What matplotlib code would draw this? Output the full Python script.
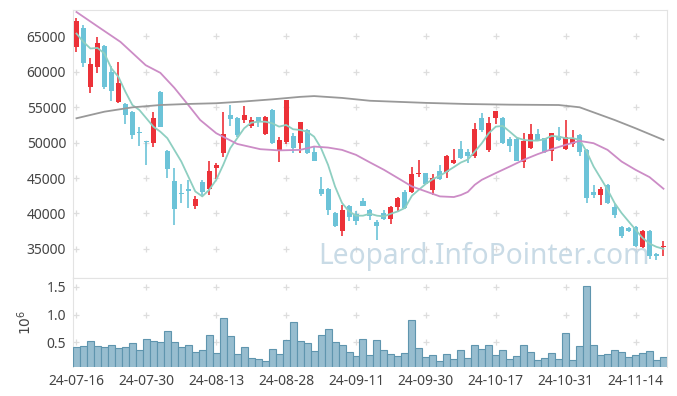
import matplotlib.pyplot as plt
import numpy as np

# daily candles, 24-07-16 .. 24-11-20 (trading days only)
opens = [63500, 66220, 57870, 60600, 63590, 59940, 55760, 55400, 54310, 51500,
         50170, 49910, 57170, 48830, 44610, 42950, 43420, 41000, 44430, 43450,
         46480, 48590, 53890, 53470, 53190, 52390, 53570, 51260, 54600, 48870,
         50140, 50940, 49910, 51780, 48690, 43490, 43490, 40070, 37490, 41100,
         39970, 41800, 40540, 38810, 40070, 39230, 40860, 43070, 42970, 45500,
         45700, 43250, 46020, 45920, 47190, 49110, 48730, 48130, 53430, 48970,
         53510, 53430, 50480, 50520, 47330, 49300, 51220, 50620, 48870, 50940,
         49070, 49770, 51080, 48970, 42970, 42650, 44050, 40860, 38130, 37960,
         38100, 35290, 37580, 34350, 35240]
highs = [67630, 66550, 61870, 64900, 63740, 60780, 61300, 55540, 54460, 52160,
         50280, 54360, 57270, 48970, 46400, 44150, 44660, 42410, 44750, 47430,
         47100, 54360, 55300, 53570, 55160, 53650, 53650, 53750, 54690, 50840,
         56050, 51400, 52950, 51880, 49350, 45080, 43590, 40160, 41240, 41240,
         40300, 42180, 40630, 39130, 40440, 41000, 42320, 43350, 46540, 47570,
         45780, 45560, 46820, 48270, 49070, 50280, 49070, 52730, 54220, 53570,
         54500, 53570, 50840, 50620, 51400, 52630, 51880, 50700, 51400, 52250,
         53190, 51780, 51220, 49070, 44050, 43670, 44150, 41340, 38230, 38130,
         38290, 37720, 37720, 34440, 36080]
lows = [62790, 60680, 56940, 59840, 57590, 55900, 55620, 52590, 50480, 49580,
        46820, 49440, 52160, 44990, 38430, 41480, 40770, 40630, 42410, 42600,
        44890, 48030, 52390, 50840, 52810, 52020, 52160, 51080, 49820, 47240,
        49770, 48510, 48590, 48410, 47380, 42500, 39830, 38100, 36780, 38890,
        38430, 41000, 39060, 36320, 39030, 38530, 40160, 40630, 42880, 45130,
        44090, 42550, 44750, 44990, 47000, 47750, 47190, 47890, 51540, 48650,
        52590, 49820, 48650, 47380, 46400, 49070, 50240, 48590, 47470, 50280,
        48970, 49350, 48130, 41480, 42180, 41240, 41380, 39370, 36490, 37400,
        35290, 35150, 33600, 33410, 33970]
closes = [67110, 61250, 61060, 64060, 57830, 57310, 58390, 53940, 51120, 51360,
          50030, 53430, 52250, 46340, 40680, 42740, 43240, 42080, 42970, 46020,
          46860, 51260, 53370, 51080, 53890, 53190, 52870, 53570, 49910, 50380,
          56000, 49210, 52870, 48510, 47470, 42790, 40440, 38190, 40540, 39450,
          38890, 41100, 39590, 38290, 39230, 40910, 42220, 40720, 45600, 45780,
          44190, 44990, 44890, 48130, 47570, 47890, 48130, 51880, 51780, 52810,
          54460, 50000, 49580, 47470, 50240, 51220, 50380, 48730, 51320, 50380,
          50840, 50520, 48650, 42180, 42650, 43490, 41480, 39730, 36860, 37490,
          35380, 37580, 33970, 33970, 35470]
volume = [0.409, 0.427, 0.518, 0.427, 0.409, 0.445, 0.391, 0.409, 0.481, 0.355,
          0.554, 0.518, 0.500, 0.700, 0.500, 0.409, 0.445, 0.318, 0.355, 0.627,
          0.300, 0.936, 0.609, 0.282, 0.409, 0.209, 0.191, 0.155, 0.373, 0.282,
          0.536, 0.863, 0.518, 0.481, 0.336, 0.627, 0.736, 0.500, 0.445, 0.318,
          0.245, 0.554, 0.264, 0.536, 0.355, 0.282, 0.245, 0.300, 0.900, 0.391,
          0.227, 0.264, 0.155, 0.282, 0.191, 0.355, 0.209, 0.445, 0.373, 0.445,
          0.264, 0.355, 0.191, 0.245, 0.445, 0.318, 0.173, 0.209, 0.300, 0.191,
          0.664, 0.173, 0.427, 1.518, 0.445, 0.264, 0.282, 0.355, 0.318, 0.227,
          0.264, 0.300, 0.336, 0.173, 0.227]

# moving averages
ma5 = [65380, 64200, 63270, 63355, 62570, 60460, 59280, 57170, 55300, 54600,
       53430, 52250, 51540, 50620, 48970, 47330, 45220, 43110, 42410, 43350,
       44750, 46860, 49210, 50620, 52020, 52810, 52950, 52950, 52730, 52250,
       52490, 51880, 51780, 51540, 50840, 49210, 46860, 43810, 41480, 40300,
       39690, 39690, 39970, 39690, 39590, 39970, 40300, 40780, 42500, 43350,
       44190, 44850, 45320, 45920, 46540, 47190, 47600, 48730, 49910, 51320,
       52250, 52350, 51540, 50700, 50380, 50280, 50280, 50480, 50940, 50840,
       50620, 50620, 50380, 48730, 46620, 44990, 43350, 41480, 40070, 38890,
       37720, 36560, 35750, 35290, 35010]
ma20_x = [0, 3, 6.3, 9.9, 12, 14, 16, 17.7, 20, 23, 26.3, 29, 32, 34, 36, 38,
          40, 42, 44, 46, 48, 50, 52, 54, 55, 56, 57, 58, 60, 62, 64, 66, 68,
          70, 72, 74, 76, 78, 80, 82, 84]
ma20 = [68420, 66400, 64200, 60920, 59840, 57730, 55300, 53190, 51320, 49810,
        49070, 48900, 48970, 49440, 49300, 48970, 48270, 47200, 46160, 44990,
        43810, 43110, 42410, 42320, 42600, 43040, 44050, 44750, 45700, 46620,
        47570, 48370, 49070, 49680, 50240, 49910, 48970, 47330, 46160, 45130,
        43490]
ma120_x = [0, 4, 8, 12, 16, 20, 24, 28, 32, 34, 38, 42, 46, 50, 56, 62, 69,
           72, 77, 80, 84]
ma120 = [53430, 54360, 54970, 55300, 55450, 55550, 55800, 56100, 56450, 56560,
         56300, 55900, 55750, 55600, 55440, 55350, 55300, 54980, 53190, 52020,
         50380]

tick_pos = [0, 10, 20, 30, 40, 50, 60, 70, 80]
tick_labels = ['24-07-16', '24-07-30', '24-08-13', '24-08-28', '24-09-11',
               '24-09-30', '24-10-17', '24-10-31', '24-11-14']
price_ticks = [35000, 40000, 45000, 50000, 55000, 60000, 65000]
vol_ticks = [0.5, 1.0, 1.5]

UP = '#ec3138'
DOWN = '#6cc3d8'

plt.rcParams['font.family'] = ['Noto Sans', 'DejaVu Sans']

fig = plt.figure(figsize=(6.77, 3.96), dpi=100)
ax = fig.add_axes([0.1078, 0.298, 0.8774, 0.6767])
axv = fig.add_axes([0.1078, 0.0732, 0.8774, 0.2248], sharex=ax)

x = np.arange(len(opens))
o = np.array(opens)
c = np.array(closes)
up = c >= o
cols = np.where(up, UP, DOWN)

# candles
ax.vlines(x, lows, highs, colors=cols, linewidth=1.2, zorder=3)
ax.bar(x, np.abs(c - o), bottom=np.minimum(o, c), width=0.72,
       color=cols, linewidth=0, zorder=3)

ax.plot(x, ma5, color='#8ecfc1', lw=1.3, zorder=4)
ax.plot(ma20_x, ma20, color='#cc8cc6', lw=1.3, zorder=4)
ax.plot(ma120_x, ma120, color='#999999', lw=1.3, zorder=4)

ax.text(34.6, 32900, 'Leopard.InfoPointer.com', fontsize=20.3,
        color='#bcd2e0', alpha=0.8, va='baseline', ha='left', zorder=2)

ax.set_xlim(-0.5, 84.5)
ax.set_ylim(30900, 68700)
ax.set_yticks(price_ticks)
ax.set_yticklabels([str(v) for v in price_ticks])

# volume
axv.bar(x, volume, width=1.0, color='#97bdcf', edgecolor='#5f95ae',
        linewidth=0.8, zorder=3)
axv.set_ylim(0.055, 1.66)
axv.set_yticks(vol_ticks)
axv.set_yticklabels(['0.5', '1.0', '1.5'])
axv.set_ylabel('$10^6$', fontsize=10, color='#444444', labelpad=8)
axv.set_xticks(tick_pos)
axv.set_xticklabels(tick_labels)

# plus-shaped grid marks at tick crossings
for a, yt in [(ax, price_ticks), (axv, vol_ticks)]:
    gx, gy = np.meshgrid(tick_pos, yt)
    a.scatter(gx.ravel(), gy.ravel(), marker='+', s=22, color='#dddddd',
              linewidths=0.9, zorder=1)
    for s in a.spines.values():
        s.set_color('#e3e3e3')
    a.tick_params(length=0, labelsize=10, labelcolor='#444444', pad=5)
ax.tick_params(axis='x', labelbottom=False)
axv.spines['bottom'].set_visible(False)

fig.savefig('out.png', dpi=100)
